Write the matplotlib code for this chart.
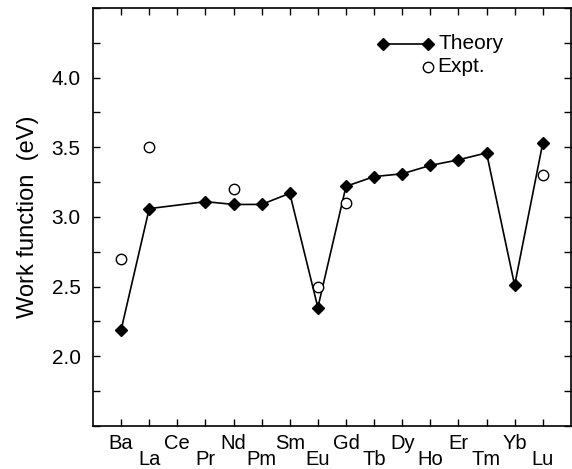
import numpy as np
import matplotlib
matplotlib.use("Agg")
import matplotlib.pyplot as plt
from matplotlib.ticker import MultipleLocator, FixedLocator, NullFormatter

plt.rcParams['font.family'] = ['Liberation Sans', 'DejaVu Sans']

elements = ["Ba", "La", "Ce", "Pr", "Nd", "Pm", "Sm", "Eu",
            "Gd", "Tb", "Dy", "Ho", "Er", "Tm", "Yb", "Lu"]
theory_elems = ["Ba", "La", "Pr", "Nd", "Pm", "Sm", "Eu", "Gd",
                "Tb", "Dy", "Ho", "Er", "Tm", "Yb", "Lu"]
theory_vals = [2.19, 3.06, 3.11, 3.09, 3.09, 3.17, 2.35, 3.22,
               3.29, 3.31, 3.37, 3.41, 3.46, 2.51, 3.53]
expt_elems = ["Ba", "La", "Nd", "Eu", "Gd", "Lu"]
expt_vals = [2.70, 3.50, 3.20, 2.50, 3.10, 3.30]

pos = {e: i for i, e in enumerate(elements)}
tx = [pos[e] for e in theory_elems]
ex = [pos[e] for e in expt_elems]

fig = plt.figure(figsize=(5.72, 4.69), dpi=100)
ax = fig.add_axes([0.1626, 0.0917, 0.8354, 0.8913])

ax.plot(tx, theory_vals, color='black', lw=1.2, marker='D', ms=6.0,
        markerfacecolor='black', markeredgecolor='black', zorder=3)
ax.plot(ex, expt_vals, linestyle='none', marker='o', ms=7.5,
        markerfacecolor='white', markeredgecolor='black', mew=1.0, zorder=4)

ax.set_xlim(-1, len(elements))
ax.set_ylim(1.5, 4.5)

# x ticks: even labels high (major), odd labels low (minor)
even = [i for i in range(len(elements)) if i % 2 == 0]
odd = [i for i in range(len(elements)) if i % 2 == 1]
ax.xaxis.set_major_locator(FixedLocator(even))
ax.xaxis.set_minor_locator(FixedLocator(odd))
ax.set_xticklabels([elements[i] for i in even], minor=False)
ax.set_xticklabels([elements[i] for i in odd], minor=True)
ax.tick_params(axis='x', which='major', direction='in', length=5, width=1,
               top=True, pad=6, labelsize=14.5)
ax.tick_params(axis='x', which='minor', direction='in', length=5, width=1,
               top=True, pad=17, labelsize=14.5)

ax.yaxis.set_major_locator(FixedLocator([2.0, 2.5, 3.0, 3.5, 4.0]))
ax.yaxis.set_minor_locator(MultipleLocator(0.25))
ax.yaxis.set_minor_formatter(NullFormatter())
ax.set_yticklabels(["2.0", "2.5", "3.0", "3.5", "4.0"])
ax.tick_params(axis='y', which='both', direction='in', length=5, width=1,
               right=True, labelsize=15, pad=9)

for s in ax.spines.values():
    s.set_linewidth(1.2)

ax.set_ylabel("Work function  (eV)", fontsize=17, labelpad=9)

# legend drawn in axes coordinates
ax.plot([0.607, 0.701], [0.914, 0.914], transform=ax.transAxes, color='black',
        lw=1.2, marker='D', ms=6.0, clip_on=False)
ax.text(0.724, 0.914, "Theory", transform=ax.transAxes, fontsize=15,
        va='center', ha='left')
ax.plot([0.701], [0.859], transform=ax.transAxes, linestyle='none', marker='o',
        ms=7.5, markerfacecolor='white', markeredgecolor='black', mew=1.0,
        clip_on=False)
ax.text(0.72, 0.859, "Expt.", transform=ax.transAxes, fontsize=15,
        va='center', ha='left')

fig.savefig("out.png", dpi=100)
